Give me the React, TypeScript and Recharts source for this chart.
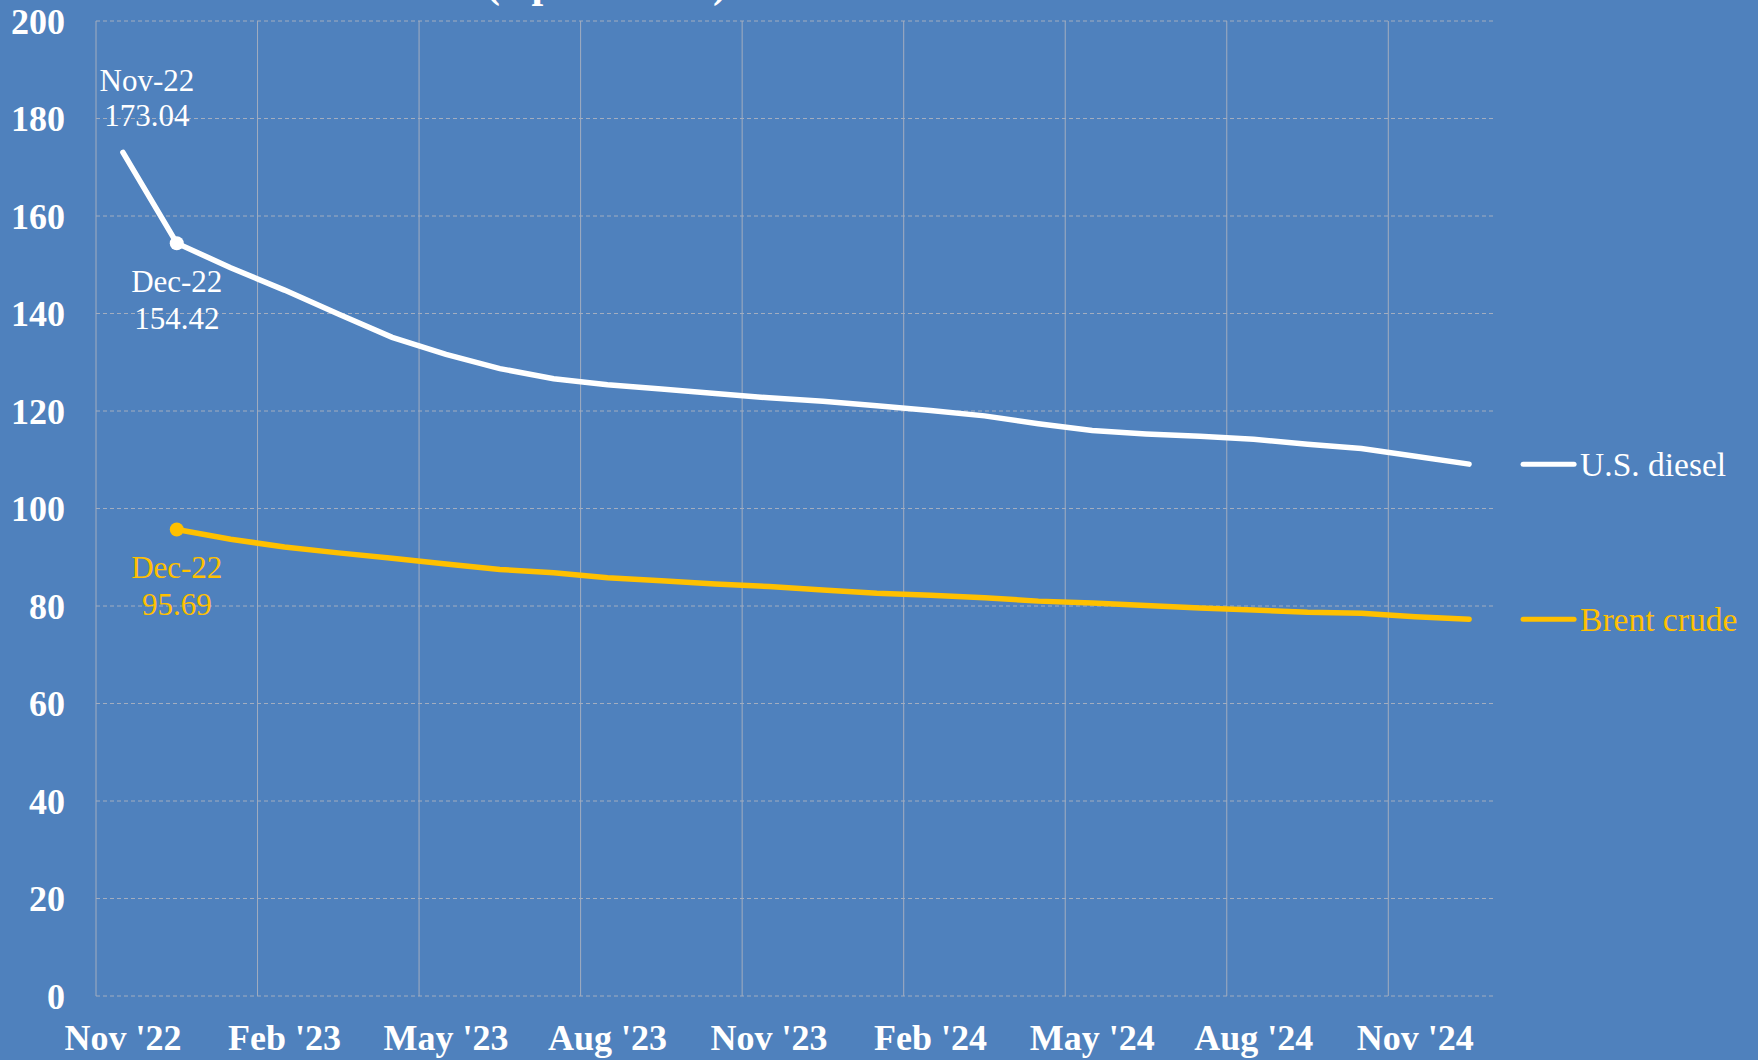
import React from 'react';
import { LineChart, Line, XAxis, YAxis, CartesianGrid, ReferenceLine, LabelList } from 'recharts';

const months = [
  "Nov '22", "Dec '22", "Jan '23", "Feb '23", "Mar '23", "Apr '23", "May '23", "Jun '23", "Jul '23",
  "Aug '23", "Sep '23", "Oct '23", "Nov '23", "Dec '23", "Jan '24", "Feb '24", "Mar '24", "Apr '24",
  "May '24", "Jun '24", "Jul '24", "Aug '24", "Sep '24", "Oct '24", "Nov '24", "Dec '24",
];
const shortNames = ['Nov-22', 'Dec-22'];

const diesel = [
  173.04, 154.42, 149.4, 144.8, 139.9, 135.1, 131.6, 128.7, 126.6, 125.4, 124.5, 123.6, 122.7,
  122.0, 121.1, 120.1, 119.0, 117.4, 116.0, 115.3, 114.8, 114.2, 113.2, 112.3, 110.7, 109.1,
];
const brent = [
  null, 95.69, 93.7, 92.1, 90.9, 89.8, 88.6, 87.5, 86.8, 85.8, 85.2, 84.5, 84.0,
  83.3, 82.6, 82.2, 81.7, 81.0, 80.6, 80.1, 79.6, 79.2, 78.7, 78.5, 77.8, 77.3,
];
const yTicks = [0, 20, 40, 60, 80, 100, 120, 140, 160, 180, 200];

const BG = '#4f81bd';
const WHITE = '#ffffff';
const GOLD = '#ffc000';
const GRID = '#a3adbf';
const FONT = '"Liberation Serif", "Times New Roman", serif';

const data = months.map((m, i) => ({ idx: i, month: m, diesel: diesel[i], brent: brent[i] }));
const xTicks = months.map((_, i) => i).filter((i) => i % 3 === 0);
const quarterLines = xTicks.map((i) => i - 0.5);
const last = months.length - 1;

const markerDot = (color: string) => (props: any) => {
  const { cx, cy, index } = props;
  if (index !== 1 || cy == null) return <g key={`d-${index}`} />;
  return <circle key={`d-${index}`} cx={cx} cy={cy} r={7} fill={color} stroke="none" />;
};

const pos = (p: any) => ({
  x: p.x ?? p.viewBox?.x,
  y: p.y ?? p.viewBox?.y,
});

const seriesLabel = (color: string, name: string, annotate: number[], above: boolean) => (props: any) => {
  const { index, value } = props;
  const { x, y } = pos(props);
  if (x == null || y == null || value == null) return null;
  if (index === last) {
    return (
      <g>
        <line x1={x + 54} x2={x + 105} y1={y} y2={y} stroke={color} strokeWidth={5} strokeLinecap="round" />
        <text x={x + 111} y={y} fill={color} fontSize={33.5} fontFamily={FONT} dominantBaseline="central">
          {name}
        </text>
      </g>
    );
  }
  if (!annotate.includes(index)) return null;
  const up = above && index === 0;
  const cx = up ? x + 24 : x;
  const d1 = up ? -72 : 38;
  const d2 = up ? -37 : 75;
  return (
    <g>
      <text x={cx} y={y + d1} fill={color} fontSize={31} fontFamily={FONT} textAnchor="middle" dominantBaseline="central">
        {shortNames[index]}
      </text>
      <text x={cx} y={y + d2} fill={color} fontSize={31} fontFamily={FONT} textAnchor="middle" dominantBaseline="central">
        {Number(value).toFixed(2)}
      </text>
    </g>
  );
};

export default function App() {
  const tickStyle = { fill: WHITE, fontSize: 36, fontFamily: FONT, fontWeight: 700 };
  return (
    <div style={{ position: 'absolute', left: 0, top: 0, width: 1758, height: 1060, background: BG, overflow: 'hidden' }}>
      <svg width={1758} height={20} style={{ position: 'absolute', left: 0, top: 0 }}>
        <text x={486} y={-3} fill={WHITE} fontSize={42} fontWeight={700} fontFamily={FONT}>
          ($ per barrel)
        </text>
      </svg>
      <LineChart width={1758} height={1060} data={data} margin={{ top: 21, right: 262, bottom: 0, left: 0 }}>
        <CartesianGrid vertical={false} stroke={GRID} strokeDasharray="4 3" />
        {quarterLines.map((q) => (
          <ReferenceLine key={q} x={q} stroke={GRID} strokeWidth={1} />
        ))}
        <XAxis
          dataKey="idx"
          type="number"
          domain={[-0.5, last + 0.5]}
          ticks={xTicks}
          tickFormatter={(v: number) => months[v]}
          axisLine={false}
          tickLine={false}
          tickMargin={22}
          height={64}
          tick={tickStyle}
          interval={0}
        />
        <YAxis
          domain={[0, 200]}
          ticks={yTicks}
          width={96}
          axisLine={false}
          tickLine={false}
          tickMargin={25}
          tick={tickStyle}
          interval={0}
        />
        <Line
          type="linear"
          dataKey="diesel"
          stroke={WHITE}
          strokeWidth={5.5}
          strokeLinecap="round"
          dot={markerDot(WHITE)}
          activeDot={false}
          isAnimationActive={false}
        >
          <LabelList dataKey="diesel" content={seriesLabel(WHITE, 'U.S. diesel', [0, 1], true)} />
        </Line>
        <Line
          type="linear"
          dataKey="brent"
          stroke={GOLD}
          strokeWidth={5.5}
          strokeLinecap="round"
          dot={markerDot(GOLD)}
          activeDot={false}
          connectNulls={false}
          isAnimationActive={false}
        >
          <LabelList dataKey="brent" content={seriesLabel(GOLD, 'Brent crude', [1], false)} />
        </Line>
      </LineChart>
    </div>
  );
}
